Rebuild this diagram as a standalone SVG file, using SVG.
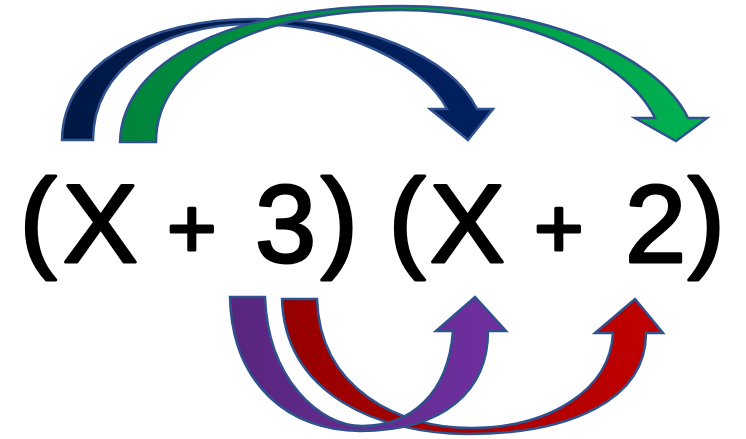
<svg xmlns="http://www.w3.org/2000/svg" width="746" height="439" viewBox="0 0 746 439">
<style>
.arrow{stroke:#2F528F;stroke-width:2.5;stroke-linejoin:miter}
.expr{font-family:"Liberation Sans",Arial,sans-serif;fill:#000;stroke:#000;stroke-width:3;stroke-linejoin:round}
</style>
<defs>
<linearGradient id="gNavy" x1="0" y1="0" x2="1" y2="0"><stop offset="0" stop-color="#001844"/><stop offset="1" stop-color="#002060"/></linearGradient>
<linearGradient id="gGreen" x1="0" y1="0" x2="1" y2="0"><stop offset="0" stop-color="#00843C"/><stop offset="1" stop-color="#00B050"/></linearGradient>
<linearGradient id="gPurple" x1="0" y1="0" x2="1" y2="0"><stop offset="0" stop-color="#58267E"/><stop offset="1" stop-color="#7030A0"/></linearGradient>
<linearGradient id="gRed" x1="0" y1="0" x2="1" y2="0"><stop offset="0" stop-color="#960000"/><stop offset="1" stop-color="#C00000"/></linearGradient>
</defs>
<rect width="746" height="439" fill="#fff"/>
<g id="connectors">
<path id="arrow-navy" class="arrow" fill="url(#gNavy)" d="M62,140 C63,65 145,19 257,19 C360,19 450,55 477,109 L493,109 L468,140 L430,109 L447,109 C425,65 345,24 252,24 C160,24 93,70 93,140 Z"/>
<path id="arrow-green" class="arrow" fill="url(#gGreen)" d="M120,142 C122,60 230,6 402,6 C530,6 655,50 688,118 L707,118 L676,141 L635,118 L655,118 C625,55 510,10 400,10 C260,10 156,60 156,142 Z"/>
<path id="arrow-red" class="arrow" fill="url(#gRed)" d="M282,299 L317,299 C320,390 400,428 470,428 C550,428 610,390 613,333 L595,333 L635,299 L663,333 L646,333 C646,400 570,434 468,434 C380,434 285,395 282,299 Z"/>
<path id="arrow-purple" class="arrow" fill="url(#gPurple)" d="M230,297 L265,297 C268,380 320,426 362,426 C410,426 448,395 453,331 L436,331 L475,297 L506,331 L488,331 C488,390 445,431 360,431 C290,431 232,385 230,297 Z"/>
</g>
<g id="factor-1">
<text class="expr"><tspan x="19.5" y="257" font-size="111">(</tspan><tspan x="63" y="262" font-size="112">X </tspan><tspan x="167" y="258" font-size="85">+ </tspan><tspan x="255" y="262" font-size="110">3</tspan><tspan x="321" y="257" font-size="111">)</tspan></text>
</g>
<g id="factor-2">
<text class="expr"><tspan x="388.5" y="257" font-size="111">(</tspan><tspan x="430" y="262" font-size="112">X </tspan><tspan x="534" y="258" font-size="85">+ </tspan><tspan x="625" y="262" font-size="110">2</tspan><tspan x="688" y="257" font-size="111">)</tspan></text>
</g>
</svg>
